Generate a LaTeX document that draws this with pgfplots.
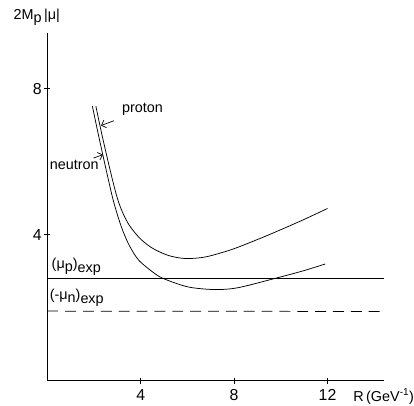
\documentclass[border=0pt]{standalone}
\usepackage{fontspec}
\setmainfont{Liberation Sans}
\usepackage{pgfplots}
\pgfplotsset{compat=1.18}
\usetikzlibrary{arrows.meta}

\begin{document}
\begin{tikzpicture}
\begin{axis}[
  at={(0,0)}, anchor=south west,
  scale only axis, width=339pt, height=351pt,
  xmin=0, xmax=14.4, ymin=0, ymax=9.53,
  axis lines*=left,
  axis line style={line width=0.8pt},
  xtick={4,8,12}, ytick={4,8},
  tick align=center, major tick length=6pt,
  tick style={line width=0.8pt, black},
  /pgf/number format/assume math mode=true,
  ticklabel style={font=\fontsize{16}{18}\selectfont},
  xticklabel style={yshift=-2pt},
  yticklabel style={xshift=1pt},
  clip=false,
]
% proton (upper curve)
\addplot[black, line width=0.75pt, smooth] coordinates {
  (2.08,7.52) (2.30,6.85) (2.55,6.15) (2.80,5.48) (3.00,5.00) (3.21,4.63)
  (3.50,4.27) (3.92,3.93) (4.30,3.72) (4.62,3.59) (5.20,3.43) (5.90,3.35)
  (6.75,3.39) (7.87,3.59) (9.00,3.87) (9.86,4.10) (11.0,4.42) (12.0,4.72)
};
% neutron (lower curve)
\addplot[black, line width=0.75pt, smooth] coordinates {
  (1.93,7.52) (2.15,6.85) (2.40,6.12) (2.60,5.55) (2.80,5.00) (3.00,4.55)
  (3.21,4.15) (3.50,3.72) (3.92,3.30) (4.62,2.93) (5.05,2.78) (6.04,2.57)
  (7.17,2.50) (8.16,2.55) (9.72,2.80) (11.0,3.02) (11.9,3.20)
};
% experimental values
\addplot[black, line width=0.75pt] coordinates {(0,2.80) (14.4,2.80)};
\addplot[black, line width=0.75pt, dash pattern=on 11pt off 7pt] coordinates {(0,1.91) (14.4,1.90)};

\node[anchor=center, font=\fontsize{14.5}{16}\selectfont] at (axis cs:-0.45,9.96) {2M\raisebox{-0.4ex}{p}\,|μ|};
\node[anchor=west, font=\fontsize{14.5}{16}\selectfont] at (axis cs:3.05,7.42) {proton};
\node[anchor=west, font=\fontsize{14.5}{16}\selectfont, inner sep=0pt] at (axis cs:0.1,5.92) {neutron};
\draw[-{Straight Barb[length=4pt]}, line width=0.7pt] (axis cs:2.85,7.12) -- (axis cs:2.30,6.99);
\draw[-{Straight Barb[length=4pt]}, line width=0.7pt] (axis cs:1.98,6.10) -- (axis cs:2.38,6.19);
\node[anchor=base west, inner sep=0pt, font=\fontsize{14.5}{16}\selectfont] at (axis cs:0.18,3.07) {(μ\raisebox{-0.35ex}{p})\raisebox{-0.55ex}{exp}};
\node[anchor=base west, inner sep=0pt, font=\fontsize{14.5}{16}\selectfont] at (axis cs:0.10,2.23) {(-μ\raisebox{-0.35ex}{n})\raisebox{-0.55ex}{exp}};
\node[anchor=west, inner sep=0pt, font=\fontsize{14.5}{16}\selectfont] at (axis cs:13.1,-0.43) {R\,(GeV\textsuperscript{-1})};
\end{axis}
\path (-47.7pt,-25pt) rectangle (366.3pt,384pt);
\end{tikzpicture}
\end{document}
